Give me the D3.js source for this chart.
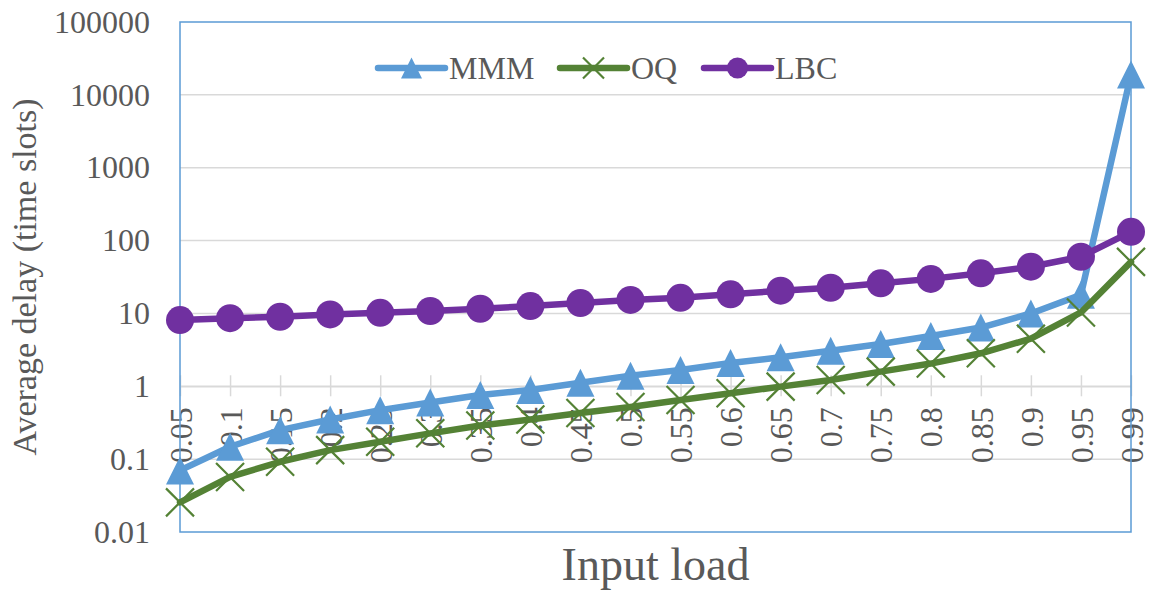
<!DOCTYPE html>
<html>
<head>
<meta charset="utf-8">
<script src="https://cdn.jsdelivr.net/npm/d3@7"></script>
<style>
  body { margin: 0; background: #fff; }
  svg text { font-family: "Liberation Serif", "Times New Roman", serif !important; fill: #595959; }
</style>
</head>
<body>
<svg id="chart" width="1149" height="593"></svg>
<script>
// categories on the x axis (input load)
var loads = ['0.05','0.1','0.15','0.2','0.25','0.3','0.35','0.4','0.45','0.5',
  '0.55','0.6','0.65','0.7','0.75','0.8','0.85','0.9','0.95','0.99'];

// average delay per series
var mmm = [0.07, 0.148, 0.25, 0.35, 0.47, 0.6, 0.76, 0.89, 1.12, 1.4,
  1.67, 2.09, 2.5, 3.08, 3.8, 4.9, 6.4, 10.0, 18, 19000];
var oq = [0.0255, 0.057, 0.092, 0.133, 0.173, 0.226, 0.29, 0.35, 0.43, 0.52,
  0.65, 0.8, 0.99, 1.22, 1.59, 2.05, 2.84, 4.5, 10.3, 51];
var lbc = [8.1, 8.6, 9.0, 9.7, 10.2, 10.8, 11.6, 12.6, 13.9, 15.3,
  16.4, 18.3, 20.5, 22.5, 25.9, 29.8, 35.5, 43.8, 60, 132];

var yTicks = [0.01, 0.1, 1, 10, 100, 1000, 10000, 100000];
var seriesNames = ['MMM', 'OQ', 'LBC'];

var serif = '"Liberation Serif", "Times New Roman", serif';

var svg = d3.select('#chart');
var margin = {top: 22, right: 18, bottom: 61, left: 180},
  width = +svg.attr('width') - margin.left - margin.right,
  height = +svg.attr('height') - margin.top - margin.bottom;

var x = d3.scalePoint().domain(loads).range([0, width]);
var y = d3.scaleLog().domain([0.01, 100000]).range([height, 0]);

var g = svg.append('g')
  .attr('transform', 'translate(' + margin.left + ',' + margin.top + ')');

// horizontal gridlines
g.append('g')
  .selectAll('line')
  .data(yTicks.slice(1, -1))
  .enter().append('line')
  .attr('x1', 0).attr('x2', width)
  .attr('y1', function(d) { return y(d); })
  .attr('y2', function(d) { return y(d); })
  .attr('stroke', '#d9d9d9').attr('stroke-width', 1.5);

// y axis labels
g.append('g')
  .call(d3.axisLeft(y).tickValues(yTicks).tickFormat(function(d) { return String(+d.toPrecision(1)); })
    .tickSize(0).tickPadding(30))
  .attr('font-family', serif)
  .call(function(a) { a.select('.domain').remove(); })
  .selectAll('text')
  .style('font-family', serif)
  .style('font-size', '32px')
  .attr('fill', '#595959');

// x axis crosses at 1
var xAxis = g.append('g')
  .attr('transform', 'translate(0,' + y(1) + ')')
  .call(d3.axisBottom(x).tickSize(0).tickFormat(''))
  .attr('font-family', serif);
xAxis.select('.domain').attr('stroke', '#d9d9d9').attr('stroke-width', 1.5);
xAxis.selectAll('.tick line').remove();
xAxis.selectAll('.tick text').remove();
xAxis.selectAll('.tick').append('line')
  .attr('y1', -11).attr('y2', 10)
  .attr('stroke', '#d9d9d9').attr('stroke-width', 1.5);
xAxis.selectAll('.tick').append('text')
  .attr('transform', 'translate(0,21) rotate(-90)')
  .attr('text-anchor', 'end')
  .attr('dy', '0.35em')
  .attr('fill', '#595959')
  .style('font-family', serif)
  .style('font-size', '32px')
  .text(function(d) { return d; });

// plot area border
g.append('rect')
  .attr('x', 0).attr('y', 0)
  .attr('width', width).attr('height', height)
  .attr('fill', 'none')
  .attr('stroke', '#5b9bd5').attr('stroke-width', 1.5);

// series
var series = [
  {name: seriesNames[0], values: mmm, color: '#5b9bd5', marker: 'triangle'},
  {name: seriesNames[1], values: oq, color: '#548235', marker: 'cross'},
  {name: seriesNames[2], values: lbc, color: '#7030a0', marker: 'circle'}
];

var line = d3.line()
  .x(function(d, i) { return x(loads[i]); })
  .y(function(d) { return y(d); });

function drawMarker(sel, type, color, size) {
  var h = size / 2;
  if (type === 'triangle') {
    sel.append('path')
      .attr('d', 'M0,' + (-h) + 'L' + h + ',' + h + 'L' + (-h) + ',' + h + 'Z')
      .attr('fill', color);
  } else if (type === 'circle') {
    sel.append('circle').attr('r', h).attr('fill', color);
  } else {
    sel.append('path')
      .attr('d', 'M' + (-h) + ',' + (-h) + 'L' + h + ',' + h + 'M' + h + ',' + (-h) + 'L' + (-h) + ',' + h)
      .attr('stroke', color).attr('stroke-width', 2.2).attr('fill', 'none');
  }
}

series.forEach(function(s) {
  var sg = g.append('g').attr('class', 'series');
  sg.append('path')
    .attr('d', line(s.values))
    .attr('fill', 'none')
    .attr('stroke', s.color)
    .attr('stroke-width', 6.5)
    .attr('stroke-linejoin', 'round')
    .attr('stroke-linecap', 'round');
  sg.selectAll('g.m')
    .data(s.values)
    .enter().append('g')
    .attr('class', 'm')
    .attr('transform', function(d, i) { return 'translate(' + x(loads[i]) + ',' + y(d) + ')'; })
    .each(function() { drawMarker(d3.select(this), s.marker, s.color, 28); });
});

// legend
var legendX = [378, 560, 704];
var legend = svg.append('g').attr('transform', 'translate(0,68)');
series.forEach(function(s, i) {
  var lg = legend.append('g').attr('transform', 'translate(' + legendX[i] + ',0)');
  lg.append('line')
    .attr('x1', 0).attr('x2', 67)
    .attr('stroke', s.color).attr('stroke-width', 6.5)
    .attr('stroke-linecap', 'round');
  var m = lg.append('g').attr('transform', 'translate(33.5,0)');
  drawMarker(m, s.marker, s.color, 21);
  lg.append('text')
    .attr('x', 71).attr('dy', '0.35em')
    .style('font-family', serif)
    .style('font-size', '32px')
    .text(s.name);
});

// axis titles
svg.append('text')
  .attr('transform', 'translate(36,' + (margin.top + height / 2) + ') rotate(-90)')
  .attr('text-anchor', 'middle')
  .style('font-family', serif)
  .style('font-size', '34px')
  .text('Average delay (time slots)');

svg.append('text')
  .attr('x', margin.left + width / 2)
  .attr('y', 580)
  .attr('text-anchor', 'middle')
  .style('font-family', serif)
  .style('font-size', '46px')
  .text('Input load');
</script>
</body>
</html>
